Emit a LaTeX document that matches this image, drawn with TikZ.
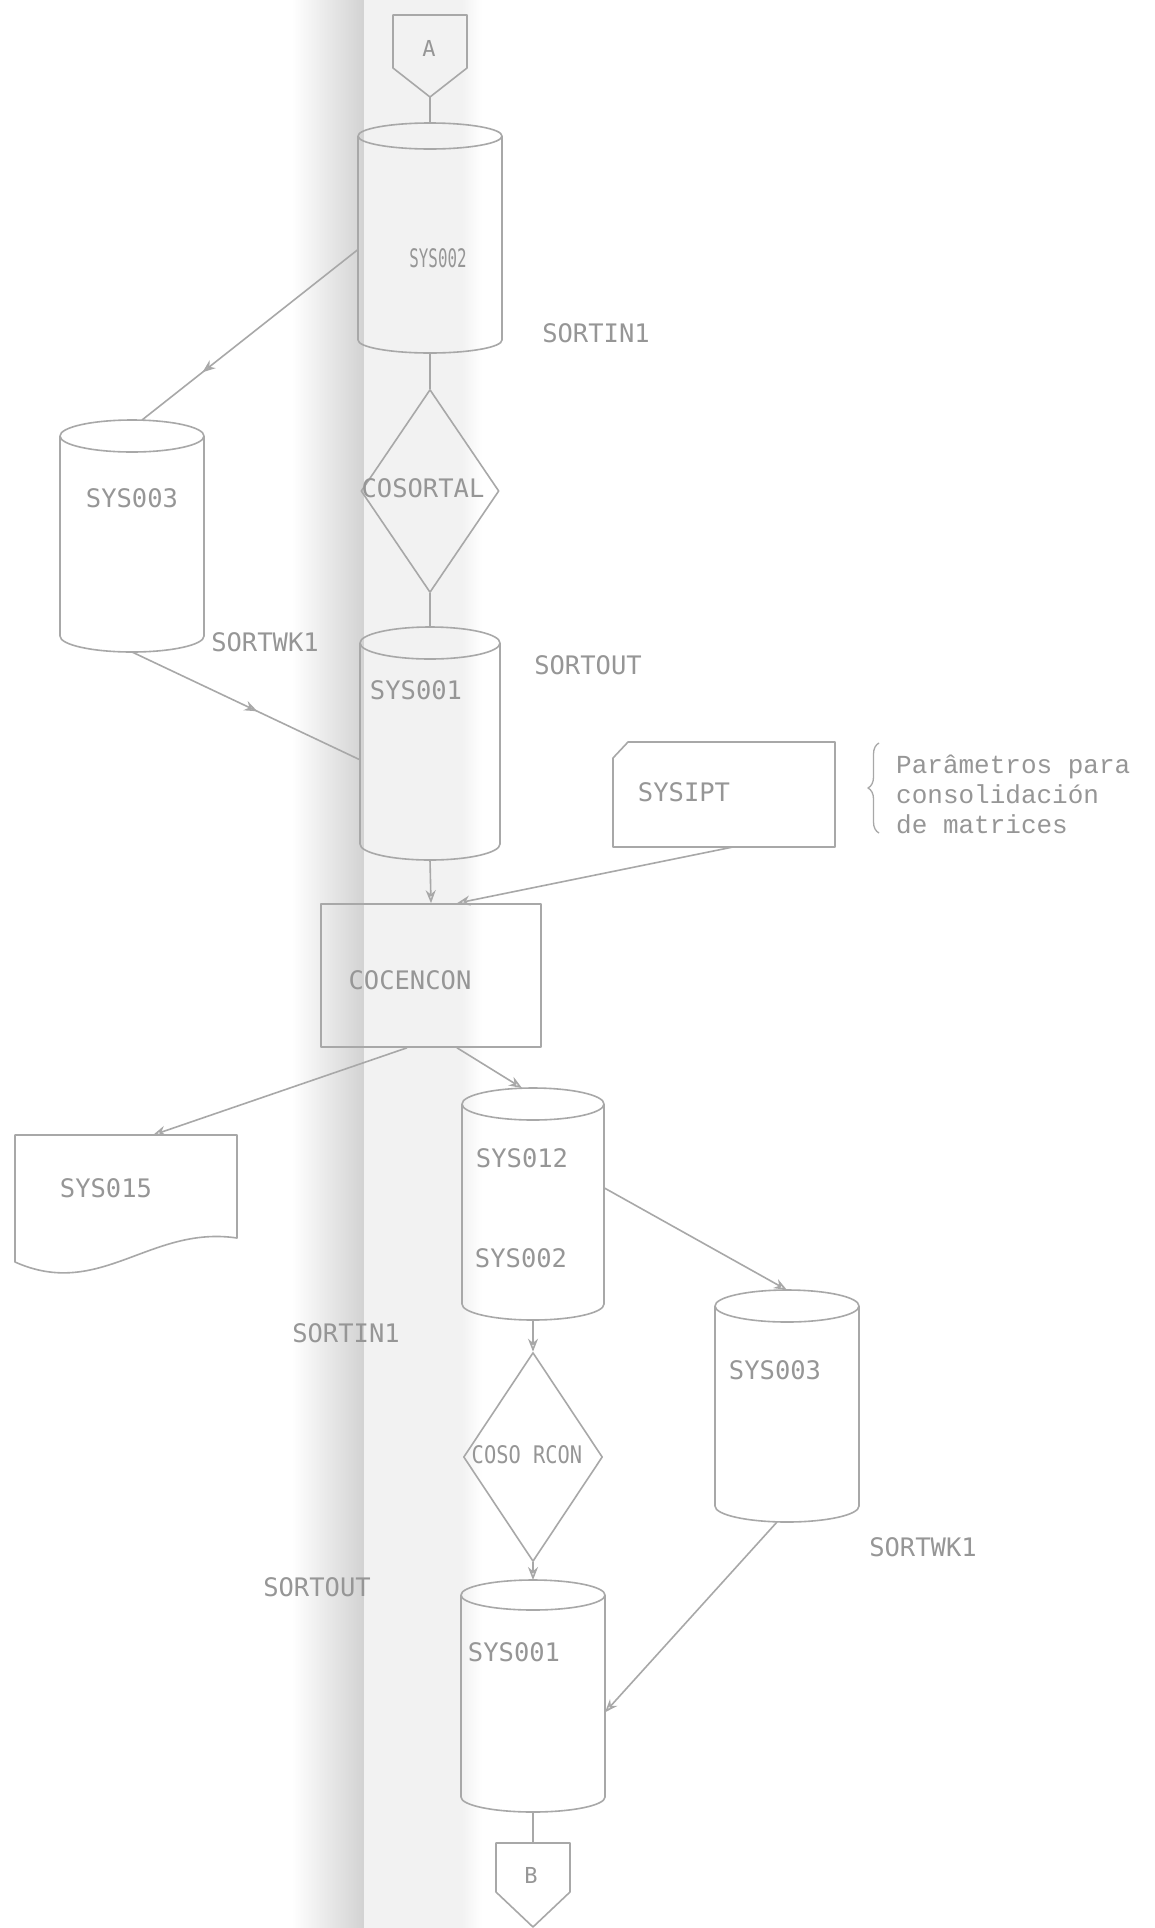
\documentclass[tikz,border=0pt]{standalone}
\usepackage{fontspec}
\usetikzlibrary{arrows.meta,calc,shapes.geometric,decorations.markings,decorations.pathreplacing}
\newfontfamily\lblfont{DejaVu Sans Mono}
\newfontfamily\notefont{Liberation Mono}
\definecolor{lnc}{RGB}{168,168,168}
\definecolor{txc}{RGB}{150,150,150}
\definecolor{bandc}{RGB}{210,210,210}
\definecolor{bandl}{RGB}{242,242,242}
\tikzset{
  ln/.style={draw=lnc, line width=1.6pt, line join=round},
  hit/.style={draw=none, inner sep=0pt, outer sep=0pt, rectangle},
  lbl/.style={text=txc, font=\lblfont\fontsize{25.5}{30}\selectfont, inner sep=0pt},
  arr/.style={ln, -{Stealth[open, length=13pt, width=10pt]}},
  midarr/.style={ln, postaction={decorate}, decoration={markings, mark=at position #1 with {\arrow{Stealth[open,length=13pt,width=10pt]}}}},
}
% name, cx, half width, y top, y bottom, ellipse radius
\newcommand{\mycyl}[6]{%
  \node[hit, minimum width={2*#3}, minimum height={#5-#4}] (#1) at (#2,{(#4+#5)/2}) {};
  \draw[ln] ({#2-#3},{#4+#6}) -- ({#2-#3},{#5-#6})
     arc[start angle=180, end angle=360, x radius=#3pt, y radius=#6pt]
     -- ({#2+#3},{#4+#6});
  \draw[ln] (#2,{#4+#6}) ellipse [x radius=#3pt, y radius=#6pt];
}
\begin{document}
\begin{tikzpicture}[x=1pt, y=-1pt]
\useasboundingbox (0,0) rectangle (1155,1928);
\fill[white] (0,0) rectangle (1155,1928);
% scan band
\shade[left color=white, right color=bandc] (292,0) rectangle (364,1928);
\fill[bandl] (364,0) rectangle (462,1928);
\shade[left color=bandl, right color=white] (462,0) rectangle (482,1928);

% connector A
\node[hit, minimum width=74, minimum height=82] (A) at (430,56) {};
\draw[ln] (A.north west) -- (A.north east) -- ($(A.north east)+(0,53)$) -- (A.south) -- ($(A.north west)+(0,53)$) -- cycle;
\node[lbl, font=\lblfont\fontsize{22}{26}\selectfont] (tA) at (429,48) {A};

% cylinders
\mycyl{s002}{430}{72}{123}{353}{13}
\mycyl{s003a}{132}{72}{420}{652}{16}
\mycyl{s001a}{430}{70}{627}{860}{16}
\mycyl{s012}{533}{71}{1088}{1320}{16}
\mycyl{s003b}{787}{72}{1290}{1522}{16}
\mycyl{s001b}{533}{72}{1580}{1812}{15}

% diamonds
\node[ln, diamond, minimum width=138, minimum height=203, inner sep=0pt] (d1) at (430,491) {};
\node[ln, diamond, minimum width=139, minimum height=209, inner sep=0pt] (d2) at (533,1457) {};

% process
\node[ln, rectangle, minimum width=220, minimum height=143, inner sep=0pt] (coc) at (431,975.5) {};

% card SYSIPT
\node[hit, minimum width=222, minimum height=105] (ipt) at (724,794.5) {};
\draw[ln] ($(ipt.north west)+(0,16)$) -- ($(ipt.north west)+(15,0)$) -- (ipt.north east) -- (ipt.south east) -- (ipt.south west) -- cycle;

% document SYS015
\node[hit, minimum width=222, minimum height=138] (s015) at (126,1204) {};
\draw[ln] (15,1135) -- (237,1135) -- (237,1238) .. controls (150,1225) and (100,1300) .. (15,1262) -- cycle;

% connector B
\node[hit, minimum width=74, minimum height=84] (B) at (533,1885) {};
\draw[ln] (B.north west) -- (B.north east) -- ($(B.north east)+(0,49)$) -- (B.south) -- ($(B.north west)+(0,49)$) -- cycle;
\node[lbl, font=\lblfont\fontsize{22}{26}\selectfont] (tB) at (531,1875) {B};

% brace and note
\draw[ln, line width=1.3pt, decorate, decoration={brace, amplitude=11pt}] (879,833) -- (879,743);
\node[text=txc, font=\notefont\fontsize{26}{30}\selectfont, anchor=west, align=left, inner sep=0pt] (note) at (896,794) {Parâmetros para\\consolidación\\de matrices};

% labels
\node[lbl] (t002) at (438,258) {\scalebox{0.62}[1]{SYS002}};
\node[lbl] (t003a) at (132,498) {SYS003};
\node[lbl] (tsw1) at (265,642) {SORTWK1};
\node[lbl] (tsi1) at (596,333) {SORTIN1};
\node[lbl] (tcs1) at (423,488) {COSORTAL};
\node[lbl] (t001a) at (416,690) {SYS001};
\node[lbl] (tso1) at (588,665) {SORTOUT};
\node[lbl] (tipt) at (684,792) {SYSIPT};
\node[lbl] (tcoc) at (410,980) {COCENCON};
\node[lbl] (t015) at (106,1188) {SYS015};
\node[lbl] (t012) at (522,1158) {SYS012};
\node[lbl] (t002b) at (521,1258) {SYS002};
\node[lbl] (tsi2) at (346,1333) {SORTIN1};
\node[lbl] (tcs2) at (527,1455) {\scalebox{0.8}[0.95]{COSO RCON}};
\node[lbl] (t003b) at (775,1370) {SYS003};
\node[lbl] (tsw2) at (923,1547) {SORTWK1};
\node[lbl] (tso2) at (317,1587) {SORTOUT};
\node[lbl] (t001b) at (514,1652) {SYS001};

% connectors
\draw[ln] (A.south) -- (s002.north);
\draw[ln] (s002.south) -- (d1.north);
\draw[ln] (d1.south) -- (s001a.north);
\draw[midarr=0.72] ($(s002.north west)!0.55!(s002.south west)$) -- ([xshift=10pt]s003a.north);
\draw[midarr=0.55] (s003a.south) -- ($(s001a.north west)!0.57!(s001a.south west)$);
\draw[arr] (s001a.south) -- (coc.north);
\draw[arr] ([xshift=9pt]ipt.south) -- ([xshift=26pt]coc.north);
\draw[arr] ([xshift=-24pt]coc.south) -- ([xshift=27pt]s015.north);
\draw[arr] ([xshift=26pt]coc.south) -- ([xshift=-11pt]s012.north);
\draw[arr] ($(s012.north east)!0.43!(s012.south east)$) -- (s003b.north);
\draw[arr] (s012.south) -- (d2.north);
\draw[arr] (d2.south) -- (s001b.north);
\draw[arr] ([xshift=-10pt]s003b.south) -- ($(s001b.north east)!0.57!(s001b.south east)$);
\draw[ln] (s001b.south) -- (B.north);
\end{tikzpicture}
\end{document}
